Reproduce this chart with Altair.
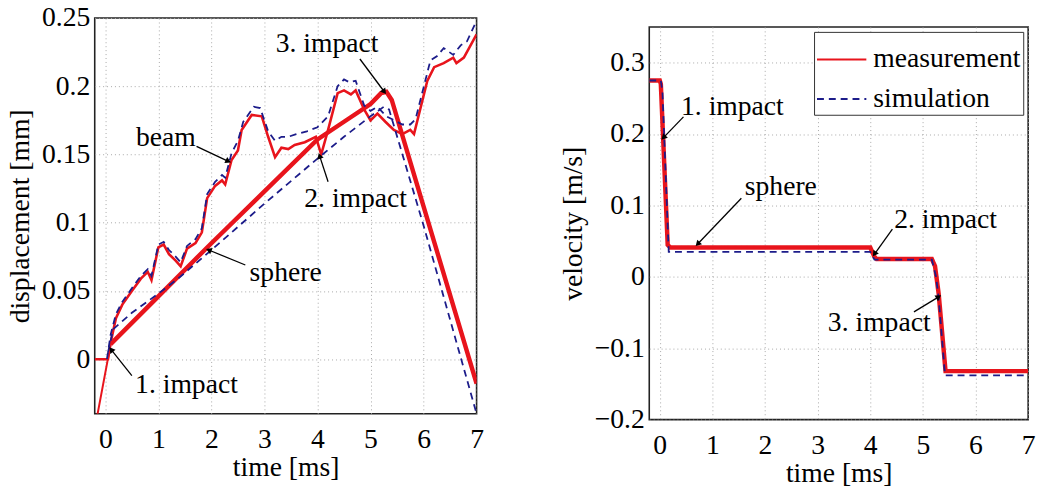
import altair as alt
import numpy as np
import pandas as pd

RED = "#e8141c"
BLUE = "#1c1c8a"
FONT = "Liberation Serif"
FS = 28

# ---------------- left panel data (displacement) ----------------
approach_t = [-0.17, 0.1]
approach_y = [-0.045, 0.011]

sphere_meas_t = [0.1, 1.0, 2.0, 3.0, 4.0, 4.5, 5.0, 5.2, 5.3, 5.4, 6.0, 7.0]
sphere_meas_y = [0.011, 0.046, 0.085, 0.123, 0.161, 0.174, 0.187, 0.195, 0.196, 0.190, 0.112, -0.018]

sphere_sim_t = [0.05, 0.15, 0.5, 1.0, 1.4, 2.0, 3.0, 4.0, 4.5, 5.0, 5.25, 5.35, 6.0, 7.0]
sphere_sim_y = [0.005, 0.022, 0.034, 0.048, 0.060, 0.080, 0.114, 0.147, 0.163, 0.178, 0.185, 0.183, 0.098, -0.040]

beam_meas_t = [-0.2, 0.05, 0.1, 0.2, 0.32, 0.5, 0.67, 0.8, 0.87, 1.0, 1.1, 1.2, 1.33, 1.42, 1.54,
               1.7, 1.82, 1.92, 2.07, 2.2, 2.26, 2.38, 2.5, 2.57, 2.76, 2.95, 3.07, 3.2, 3.32, 3.45,
               3.57, 3.76, 3.97, 4.07, 4.2, 4.38, 4.5, 4.63, 4.72, 4.88, 5.0, 5.13, 5.28, 5.44, 5.6,
               5.75, 5.82, 6.07, 6.2, 6.38, 6.56, 6.62, 6.76, 7.0]
beam_meas_y = [0.0, 0.0, 0.012, 0.03, 0.04, 0.05, 0.059, 0.064, 0.058, 0.082, 0.084, 0.077, 0.072,
               0.068, 0.081, 0.085, 0.093, 0.118, 0.127, 0.131, 0.128, 0.146, 0.153, 0.168, 0.179,
               0.178, 0.163, 0.148, 0.155, 0.154, 0.157, 0.159, 0.163, 0.150, 0.168, 0.195, 0.197,
               0.194, 0.197, 0.183, 0.175, 0.180, 0.174, 0.168, 0.165, 0.168, 0.165, 0.204, 0.214,
               0.217, 0.221, 0.217, 0.221, 0.238]

beam_sim_t = [0.03, 0.1, 0.2, 0.32, 0.5, 0.67, 0.8, 0.87, 1.0, 1.1, 1.2, 1.33, 1.42, 1.54, 1.7,
              1.82, 1.92, 2.07, 2.2, 2.26, 2.38, 2.5, 2.6, 2.8, 2.92, 3.07, 3.2, 3.32, 3.45, 3.6,
              3.8, 4.0, 4.2, 4.38, 4.5, 4.6, 4.72, 4.88, 5.0, 5.13, 5.3, 5.45, 5.6, 5.75, 5.85,
              6.13, 6.25, 6.38, 6.56, 6.7, 6.82, 7.0]
beam_sim_y = [0.0, 0.018, 0.033, 0.042, 0.052, 0.061, 0.066, 0.061, 0.084, 0.086, 0.080, 0.075,
              0.071, 0.083, 0.088, 0.096, 0.121, 0.130, 0.135, 0.133, 0.151, 0.160, 0.174, 0.185,
              0.184, 0.167, 0.160, 0.163, 0.163, 0.165, 0.167, 0.170, 0.178, 0.200, 0.205, 0.203,
              0.204, 0.186, 0.182, 0.185, 0.178, 0.175, 0.172, 0.172, 0.176, 0.219, 0.222, 0.228,
              0.223, 0.230, 0.233, 0.248]

left_ann_text = ["3. impact", "beam", "2. impact", "sphere", "1. impact"]
left_ann_x = [4.18, 1.14, 4.72, 3.4, 1.53]
left_ann_y = [0.231, 0.162, 0.117, 0.063, -0.019]
left_arrow_x = [4.8, 1.72, 4.2, 2.64, 0.5]
left_arrow_y = [0.220, 0.156, 0.130, 0.069, -0.012]
left_arrow_x2 = [5.26, 2.32, 4.04, 1.95, 0.11]
left_arrow_y2 = [0.196, 0.145, 0.149, 0.080, 0.007]

# ---------------- right panel data (velocity) ----------------
vel_meas_t = [-0.2, 0.0, 0.02, 0.15, 0.2, 4.0, 4.08, 4.12, 5.17, 5.23, 5.3, 5.43, 5.5, 7.0]
vel_meas_y = [0.275, 0.275, 0.27, 0.045, 0.041, 0.041, 0.028, 0.025, 0.025, 0.015, -0.024,
              -0.132, -0.132, -0.132]
vel_sim_t = [-0.2, 0.02, 0.05, 0.17, 4.0, 4.08, 5.17, 5.25, 5.3, 5.42, 7.0]
vel_sim_y = [0.275, 0.275, 0.26, 0.035, 0.035, 0.024, 0.024, 0.0, -0.03, -0.138, -0.138]

right_ann_text = ["1. impact", "sphere", "2. impact", "3. impact"]
right_ann_x = [1.38, 2.3, 5.43, 4.17]
right_ann_y = [0.2375, 0.126, 0.08, -0.065]
right_arrow_x = [0.45, 1.55, 4.42, 4.83]
right_arrow_y = [0.224, 0.110, 0.067, -0.049]
right_arrow_x2 = [0.07, 0.72, 4.08, 5.3]
right_arrow_y2 = [0.195, 0.046, 0.032, -0.028]

x_ticks = [0, 1, 2, 3, 4, 5, 6, 7]
left_y_ticks = [0, 0.05, 0.1, 0.15, 0.2, 0.25]
right_y_ticks = [-0.2, -0.1, 0, 0.1, 0.2, 0.3]

X_DOM = [-0.2, 7.0]
LY_DOM = [-0.04, 0.25]
RY_DOM = [-0.2, 0.35]

LW, LH = 387, 401
RW, RH = 384, 398


def df_line(t, y):
    return pd.DataFrame({"t": t, "y": y, "i": range(len(t))})


def x_axis():
    return alt.Axis(values=x_ticks, format="d", title="time [ms]", labelFlush=False,
                    grid=True, ticks=False, labelPadding=12, titlePadding=1)


def y_axis(vals, title):
    return alt.Axis(values=vals, format="~g", title=title, labelFlush=False,
                    grid=True, ticks=False, labelPadding=5, titlePadding=7)


def line(t, y, ydom, yvals, ytitle, color, width, dash=None):
    kw = dict(color=color, strokeWidth=width, clip=True)
    if dash:
        kw["strokeDash"] = dash
    return alt.Chart(df_line(t, y)).mark_line(**kw).encode(
        x=alt.X("t:Q", scale=alt.Scale(domain=X_DOM, nice=False, zero=False), axis=x_axis()),
        y=alt.Y("y:Q", scale=alt.Scale(domain=ydom, nice=False, zero=False),
                axis=y_axis(yvals, ytitle)),
        order="i:Q",
    )


def annotations(texts, tx, ty, ax, ay, ax2, ay2, ydom, width, height):
    xs = alt.Scale(domain=X_DOM, nice=False, zero=False)
    ys = alt.Scale(domain=ydom, nice=False, zero=False)
    tdf = pd.DataFrame({"label": texts, "t": tx, "y": ty})
    px_x = width / (X_DOM[1] - X_DOM[0])
    px_y = height / (ydom[1] - ydom[0])
    angles = []
    for x1, y1, x2, y2 in zip(ax, ay, ax2, ay2):
        dx = (x2 - x1) * px_x
        dy = -(y2 - y1) * px_y
        angles.append(float(np.degrees(np.arctan2(dx, -dy)) % 360))
    adf = pd.DataFrame({"x": ax, "y": ay, "x2": ax2, "y2": ay2, "ang": angles})
    text = alt.Chart(tdf).mark_text(font=FONT, fontSize=FS, color="black",
                                    align="center", baseline="middle").encode(
        x=alt.X("t:Q", scale=xs), y=alt.Y("y:Q", scale=ys), text="label:N")
    shaft = alt.Chart(adf).mark_rule(color="black", strokeWidth=1.3).encode(
        x=alt.X("x:Q", scale=xs), y=alt.Y("y:Q", scale=ys), x2="x2:Q", y2="y2:Q")
    head = alt.Chart(adf).mark_point(shape="triangle-up", filled=True, color="black",
                                     size=45, opacity=1).encode(
        x=alt.X("x2:Q", scale=xs), y=alt.Y("y2:Q", scale=ys),
        angle=alt.Angle("ang:Q", scale=None))
    return [shaft, head, text]


# ---------------- left panel ----------------
LT = "displacement [mm]"
left_layers = [
    line(approach_t, approach_y, LY_DOM, left_y_ticks, LT, RED, 2),
    line(beam_meas_t, beam_meas_y, LY_DOM, left_y_ticks, LT, RED, 2.6),
    line(sphere_meas_t, sphere_meas_y, LY_DOM, left_y_ticks, LT, RED, 4.5),
    line(beam_sim_t, beam_sim_y, LY_DOM, left_y_ticks, LT, BLUE, 1.8, [7, 5]),
    line(sphere_sim_t, sphere_sim_y, LY_DOM, left_y_ticks, LT, BLUE, 1.8, [7, 5]),
]
left_layers += annotations(left_ann_text, left_ann_x, left_ann_y, left_arrow_x, left_arrow_y,
                           left_arrow_x2, left_arrow_y2, LY_DOM, LW, LH)
left = alt.layer(*left_layers).properties(width=LW, height=LH)

# ---------------- right panel ----------------
RT = "velocity  [m/s]"
series_dom = ["measurement", "simulation"]
legend = alt.Legend(title=None, orient="top-right", offset=5, fillColor="white",
                    strokeColor="#333", padding=2, labelFont=FONT, labelFontSize=FS,
                    labelLimit=400, symbolType="stroke", symbolSize=2500,
                    symbolStrokeWidth=2, rowPadding=0, labelOffset=6)


def series_line(t, y, name, width):
    d = df_line(t, y)
    d["series"] = name
    return alt.Chart(d).mark_line(strokeWidth=width, clip=True).encode(
        x=alt.X("t:Q", scale=alt.Scale(domain=X_DOM, nice=False, zero=False), axis=x_axis()),
        y=alt.Y("y:Q", scale=alt.Scale(domain=RY_DOM, nice=False, zero=False),
                axis=y_axis(right_y_ticks, RT)),
        color=alt.Color("series:N", scale=alt.Scale(domain=series_dom, range=[RED, BLUE]),
                        legend=legend),
        strokeDash=alt.StrokeDash("series:N",
                                  scale=alt.Scale(domain=series_dom, range=[[1, 0], [7, 5]]),
                                  legend=legend),
        order="i:Q",
    )


right_layers = [
    series_line(vel_meas_t, vel_meas_y, "measurement", 4.5),
    series_line(vel_sim_t, vel_sim_y, "simulation", 1.8),
]
right_layers += annotations(right_ann_text, right_ann_x, right_ann_y, right_arrow_x,
                            right_arrow_y, right_arrow_x2, right_arrow_y2, RY_DOM, RW, RH)
right_main = alt.layer(*right_layers).properties(width=RW, height=RH)

spacer = alt.Chart(pd.DataFrame({"a": [0]})).mark_point(opacity=0).encode(
    x=alt.value(0), y=alt.value(0)
).properties(width=RW, height=1, view=alt.ViewBackground(stroke="transparent"))

right = alt.vconcat(spacer, right_main, spacing=4).resolve_scale(
    color="independent", strokeDash="independent")

chart = alt.hconcat(left, right, spacing=75).resolve_scale(
    color="independent", strokeDash="independent"
).properties(
    padding={"left": 6, "top": 0, "right": 4, "bottom": 0}
).configure_view(
    stroke="#222", strokeWidth=1.6
).configure_axis(
    labelFont=FONT, titleFont=FONT, labelFontSize=FS, titleFontSize=FS,
    labelColor="black", titleColor="black", titleFontWeight="normal",
    domain=False, gridColor="#a8a8a8", gridDash=[1, 3], gridWidth=1,
)

chart.save("out.html", embed_options={"renderer": "svg", "actions": False})
